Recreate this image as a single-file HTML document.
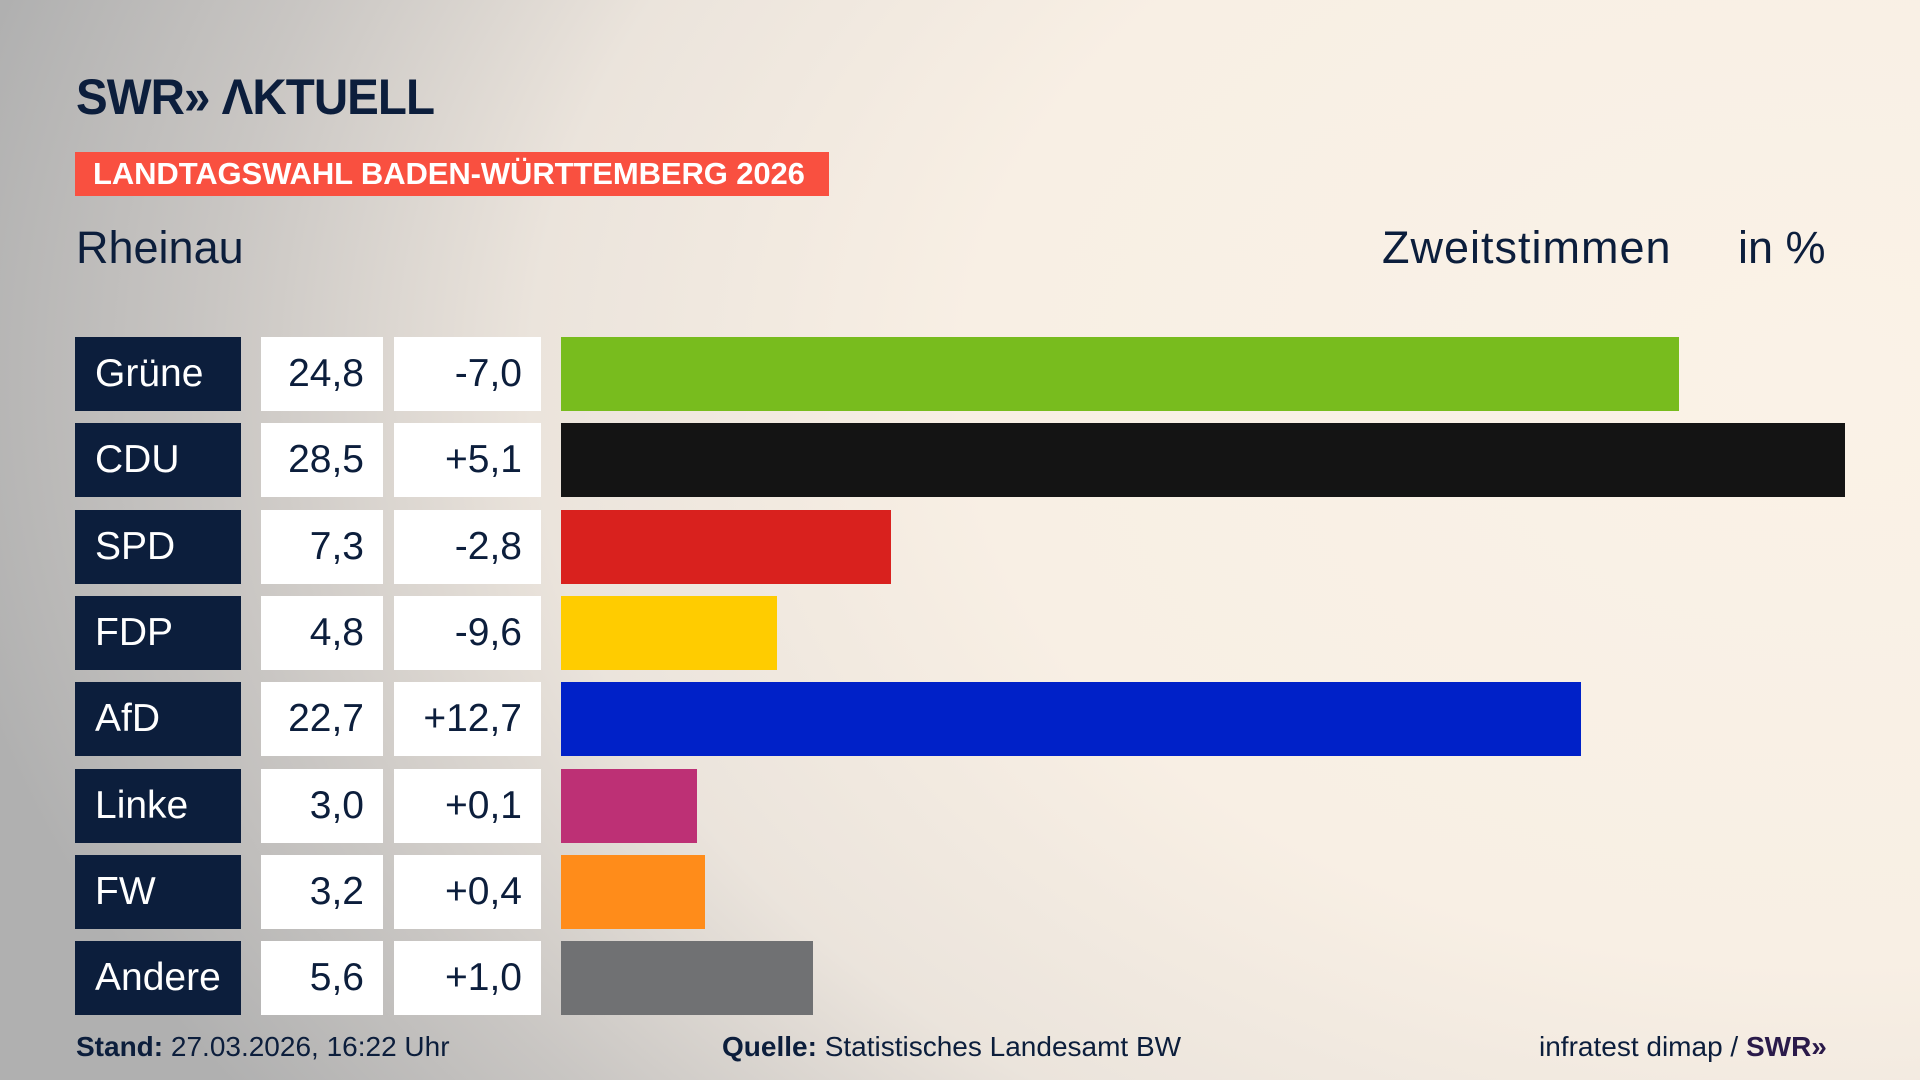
<!DOCTYPE html>
<html><head><meta charset="utf-8"><style>
*{margin:0;padding:0;box-sizing:border-box}
body{width:1920px;height:1080px;overflow:hidden;position:relative;font-family:"Liberation Sans",sans-serif;
background:radial-gradient(ellipse 1900px 1300px at 95% 35%,#faf2e7 0%,#f8efe4 45%,#ebe4dc 68%,#c9c6c3 85%,#b0b0b0 100%);}
.a{position:absolute;white-space:nowrap}
.logo{left:76px;top:68px;font-size:50px;font-weight:bold;color:#0c1e3c;letter-spacing:-1px;transform:scaleX(0.95);transform-origin:left}
.ban{left:75px;top:152px;width:754px;height:44px;background:#f95040;color:#fff;font-weight:bold;font-size:31px;line-height:44px;padding-left:18px;letter-spacing:-0.1px}
.h{top:222px;font-size:45px;color:#0c1e3c;line-height:52px}
.nm{left:75px;width:166px;height:74px;background:#0c1e3c;color:#fff;font-size:39px;line-height:74px;padding-left:20px}
.v{left:261px;width:122px;height:74px;background:#fff;color:#0c1e3c;font-size:39px;line-height:74px;text-align:right;padding-right:19px}
.d{left:394px;width:147px;height:74px;background:#fff;color:#0c1e3c;font-size:39px;line-height:74px;text-align:right;padding-right:19px}
.b{left:561px;height:74px}
.f{top:1030px;font-size:28px;color:#0c1e3c;line-height:34px}
</style></head><body>
<div class="a logo">SWR»&nbsp;ΛKTUELL</div>
<div class="a ban">LANDTAGSWAHL BADEN-WÜRTTEMBERG 2026</div>
<div class="a h" style="left:76px">Rheinau</div>
<div class="a h" style="left:1382px;letter-spacing:1px">Zweitstimmen</div>
<div class="a h" style="left:1738px">in %</div>

<div class="a nm" style="top:337px">Grüne</div><div class="a v" style="top:337px">24,8</div><div class="a d" style="top:337px">-7,0</div><div class="a b" style="top:337px;width:1118px;background:#78bc1e"></div>
<div class="a nm" style="top:423px">CDU</div><div class="a v" style="top:423px">28,5</div><div class="a d" style="top:423px">+5,1</div><div class="a b" style="top:423px;width:1284px;background:#141414"></div>
<div class="a nm" style="top:510px">SPD</div><div class="a v" style="top:510px">7,3</div><div class="a d" style="top:510px">-2,8</div><div class="a b" style="top:510px;width:330px;background:#d9211e"></div>
<div class="a nm" style="top:596px">FDP</div><div class="a v" style="top:596px">4,8</div><div class="a d" style="top:596px">-9,6</div><div class="a b" style="top:596px;width:216px;background:#ffcc00"></div>
<div class="a nm" style="top:682px">AfD</div><div class="a v" style="top:682px">22,7</div><div class="a d" style="top:682px">+12,7</div><div class="a b" style="top:682px;width:1020px;background:#0021c8"></div>
<div class="a nm" style="top:769px">Linke</div><div class="a v" style="top:769px">3,0</div><div class="a d" style="top:769px">+0,1</div><div class="a b" style="top:769px;width:136px;background:#bd3075"></div>
<div class="a nm" style="top:855px">FW</div><div class="a v" style="top:855px">3,2</div><div class="a d" style="top:855px">+0,4</div><div class="a b" style="top:855px;width:144px;background:#ff8c1a"></div>
<div class="a nm" style="top:941px">Andere</div><div class="a v" style="top:941px">5,6</div><div class="a d" style="top:941px">+1,0</div><div class="a b" style="top:941px;width:252px;background:#707173"></div>

<div class="a f" style="left:76px"><b>Stand:</b> 27.03.2026, 16:22 Uhr</div>
<div class="a f" style="left:722px"><b>Quelle:</b> Statistisches Landesamt BW</div>
<div class="a f" style="left:1539px">infratest dimap / <b style="color:#2a1a4a">SWR»</b></div>
</body></html>
